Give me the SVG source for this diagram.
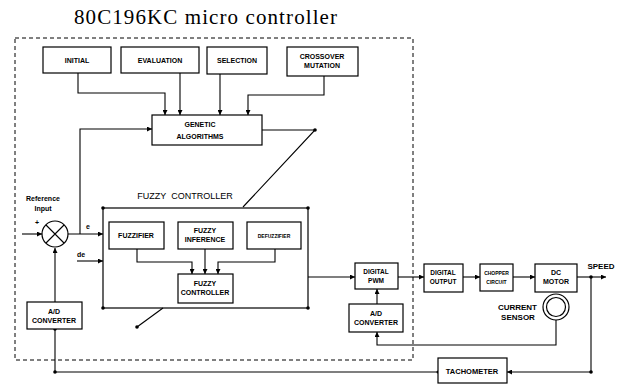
<svg xmlns="http://www.w3.org/2000/svg" width="622" height="387" viewBox="0 0 622 387">
<style>
.b{fill:#fff;stroke:#000;stroke-width:1.2}
.t{font-family:"Liberation Sans",Arial,sans-serif;font-weight:bold;font-size:7px;fill:#000;text-anchor:middle}
.w{fill:none;stroke:#000;stroke-width:1.1}
.d{fill:#000}
</style>
<defs>
<marker id="a" viewBox="0 0 6 6" refX="6" refY="3" markerWidth="5" markerHeight="5" markerUnits="userSpaceOnUse" orient="auto"><path d="M0,0L6,3L0,6z" fill="#000"/></marker>
</defs>
<rect width="622" height="387" fill="#fff"/>
<text x="74" y="24" font-family="'Liberation Serif','Times New Roman',serif" font-size="21" textLength="263" fill="#000">80C196KC micro controller</text>
<rect x="15" y="38" width="398" height="322" fill="none" stroke="#000" stroke-width="1" stroke-dasharray="4,3"/>

<g id="connectors">
<path class="w" d="M78,73V93H165V115" marker-end="url(#a)"/>
<path class="w" d="M180,73V115" marker-end="url(#a)"/>
<path class="w" d="M220,74V115" marker-end="url(#a)"/>
<path class="w" d="M324,76V95H248V115" marker-end="url(#a)"/>
<path class="w" d="M80,234V129H152" marker-end="url(#a)"/>
<path class="w" d="M262,130H315L243,207"/>
<circle class="d" cx="315" cy="130" r="1.8"/>
<path class="w" d="M163,308L137,327"/>
<circle class="d" cx="137" cy="327" r="1.8"/>
<path class="w" d="M22,234H42" marker-end="url(#a)"/>
<path class="w" d="M68,234H103" marker-end="url(#a)"/>
<path class="w" d="M77,261H103" marker-end="url(#a)"/>
<path class="w" d="M55,302V248" marker-end="url(#a)"/>
<path class="w" d="M137,249V262H192V274" marker-end="url(#a)"/>
<path class="w" d="M205,249V274" marker-end="url(#a)"/>
<path class="w" d="M275,249V262H218V274" marker-end="url(#a)"/>
<path class="w" d="M308,277H355" marker-end="url(#a)"/>
<path class="w" d="M398,277H424" marker-end="url(#a)"/>
<path class="w" d="M463,277H480" marker-end="url(#a)"/>
<path class="w" d="M513,277H535" marker-end="url(#a)"/>
<path class="w" d="M577,277H606" marker-end="url(#a)"/>
<circle class="d" cx="591" cy="277" r="1.8"/>
<path class="w" d="M591,277V372H507" marker-end="url(#a)"/>
<circle class="d" cx="591" cy="372" r="1.8"/>
<path class="w" d="M438,372H55V329"/>
<circle class="d" cx="55" cy="372" r="1.8"/>
<circle class="d" cx="55" cy="329" r="1.8"/>
<circle class="d" cx="438" cy="372" r="1.5"/>
<path class="w" d="M556,320V345H377V332" marker-end="url(#a)"/>
<path class="w" d="M377,304V289" marker-end="url(#a)"/>
</g>

<g id="initial"><rect class="b" x="43" y="47" width="68" height="26"/><text class="t" x="77" y="63">INITIAL</text></g>
<g id="evaluation"><rect class="b" x="121" y="47" width="78" height="26"/><text class="t" x="160" y="63" font-size="7.5">EVALUATION</text></g>
<g id="selection"><rect class="b" x="207" y="47" width="60" height="27"/><text class="t" x="237" y="63">SELECTION</text></g>
<g id="crossover"><rect class="b" x="287" y="47" width="71" height="29"/><text class="t" x="322" y="59">CROSSOVER</text><text class="t" x="322" y="68">MUTATION</text></g>
<g id="genetic"><rect class="b" x="152" y="115" width="110" height="30"/><text class="t" x="200" y="127">GENETIC</text><text class="t" x="200" y="139" font-size="7.5">ALGORITHMS</text></g>

<g id="fuzzy-controller">
<text x="185" y="199" font-family="'Liberation Sans',Arial,sans-serif" font-size="9" text-anchor="middle" fill="#000" xml:space="preserve">FUZZY  CONTROLLER</text>
<rect x="103" y="208" width="205" height="100" fill="none" stroke="#000" stroke-width="1.2"/>
<circle class="d" cx="103" cy="208" r="1.8"/><circle class="d" cx="308" cy="208" r="1.8"/>
<circle class="d" cx="103" cy="308" r="1.8"/><circle class="d" cx="308" cy="308" r="1.8"/>
</g>
<g id="fuzzifier"><rect class="b" x="109" y="222" width="55" height="27"/><text class="t" x="136" y="238">FUZZIFIER</text></g>
<g id="inference"><rect class="b" x="178" y="222" width="55" height="27"/><text class="t" x="205" y="233" font-size="6">FUZZY</text><text class="t" x="205" y="242">INFERENCE</text></g>
<g id="defuzzifier"><rect class="b" x="247" y="222" width="54" height="27"/><text class="t" x="274" y="238" style="font-size:5px">DEFUZZIFIER</text></g>
<g id="fuzzy-inner"><rect class="b" x="178" y="274" width="55" height="29"/><text class="t" x="205" y="286" font-size="6">FUZZY</text><text class="t" x="205" y="295" font-size="6">CONTROLLER</text></g>

<g id="sum">
<circle cx="55" cy="234" r="13" fill="#fff" stroke="#000" stroke-width="1.2"/>
<path class="w" d="M46,225L64,243M64,225L46,243"/>
<text class="t" x="37" y="225">+</text>
<text class="t" x="43" y="201">Reference</text>
<text class="t" x="43" y="211">Input</text>
<text class="t" x="88" y="229">e</text>
<text class="t" x="81" y="257">de</text>
</g>
<g id="ad-left"><rect class="b" x="27" y="302" width="55" height="27"/><text class="t" x="54" y="314">A/D</text><text class="t" x="54" y="323">CONVERTER</text></g>

<g id="pwm"><rect class="b" x="355" y="263" width="43" height="26"/><text class="t" x="376" y="274" style="font-size:6.5px">DIGITAL</text><text class="t" x="376" y="283" style="font-size:6.5px">PWM</text></g>
<g id="ad-right"><rect class="b" x="349" y="304" width="54" height="28"/><text class="t" x="376" y="316">A/D</text><text class="t" x="376" y="325">CONVERTER</text></g>
<g id="digital-output"><rect class="b" x="424" y="264" width="39" height="28"/><text class="t" x="443" y="275" style="font-size:6.5px">DIGITAL</text><text class="t" x="443" y="284" style="font-size:6.5px">OUTPUT</text></g>
<g id="chopper"><rect class="b" x="480" y="264" width="33" height="27"/><text class="t" x="496.5" y="275" style="font-size:5px">CHOPPER</text><text class="t" x="496.5" y="284" style="font-size:5px">CIRCUIT</text></g>
<g id="motor"><rect class="b" x="535" y="264" width="42" height="28"/><text class="t" x="556" y="275">DC</text><text class="t" x="556" y="284">MOTOR</text></g>
<text class="t" x="601" y="269" style="font-size:8px">SPEED</text>
<g id="current-sensor">
<circle cx="556" cy="307" r="13" fill="#fff" stroke="#000" stroke-width="1.2"/>
<circle cx="556" cy="307" r="9.5" fill="none" stroke="#000" stroke-width="1.2"/>
<text class="t" x="537" y="310" style="font-size:8px;text-anchor:end">CURRENT</text>
<text class="t" x="518" y="320" style="font-size:8px">SENSOR</text>
</g>
<g id="tachometer"><rect class="b" x="438" y="358" width="69" height="25"/><text class="t" x="472" y="374" style="font-size:7.5px">TACHOMETER</text></g>
</svg>
